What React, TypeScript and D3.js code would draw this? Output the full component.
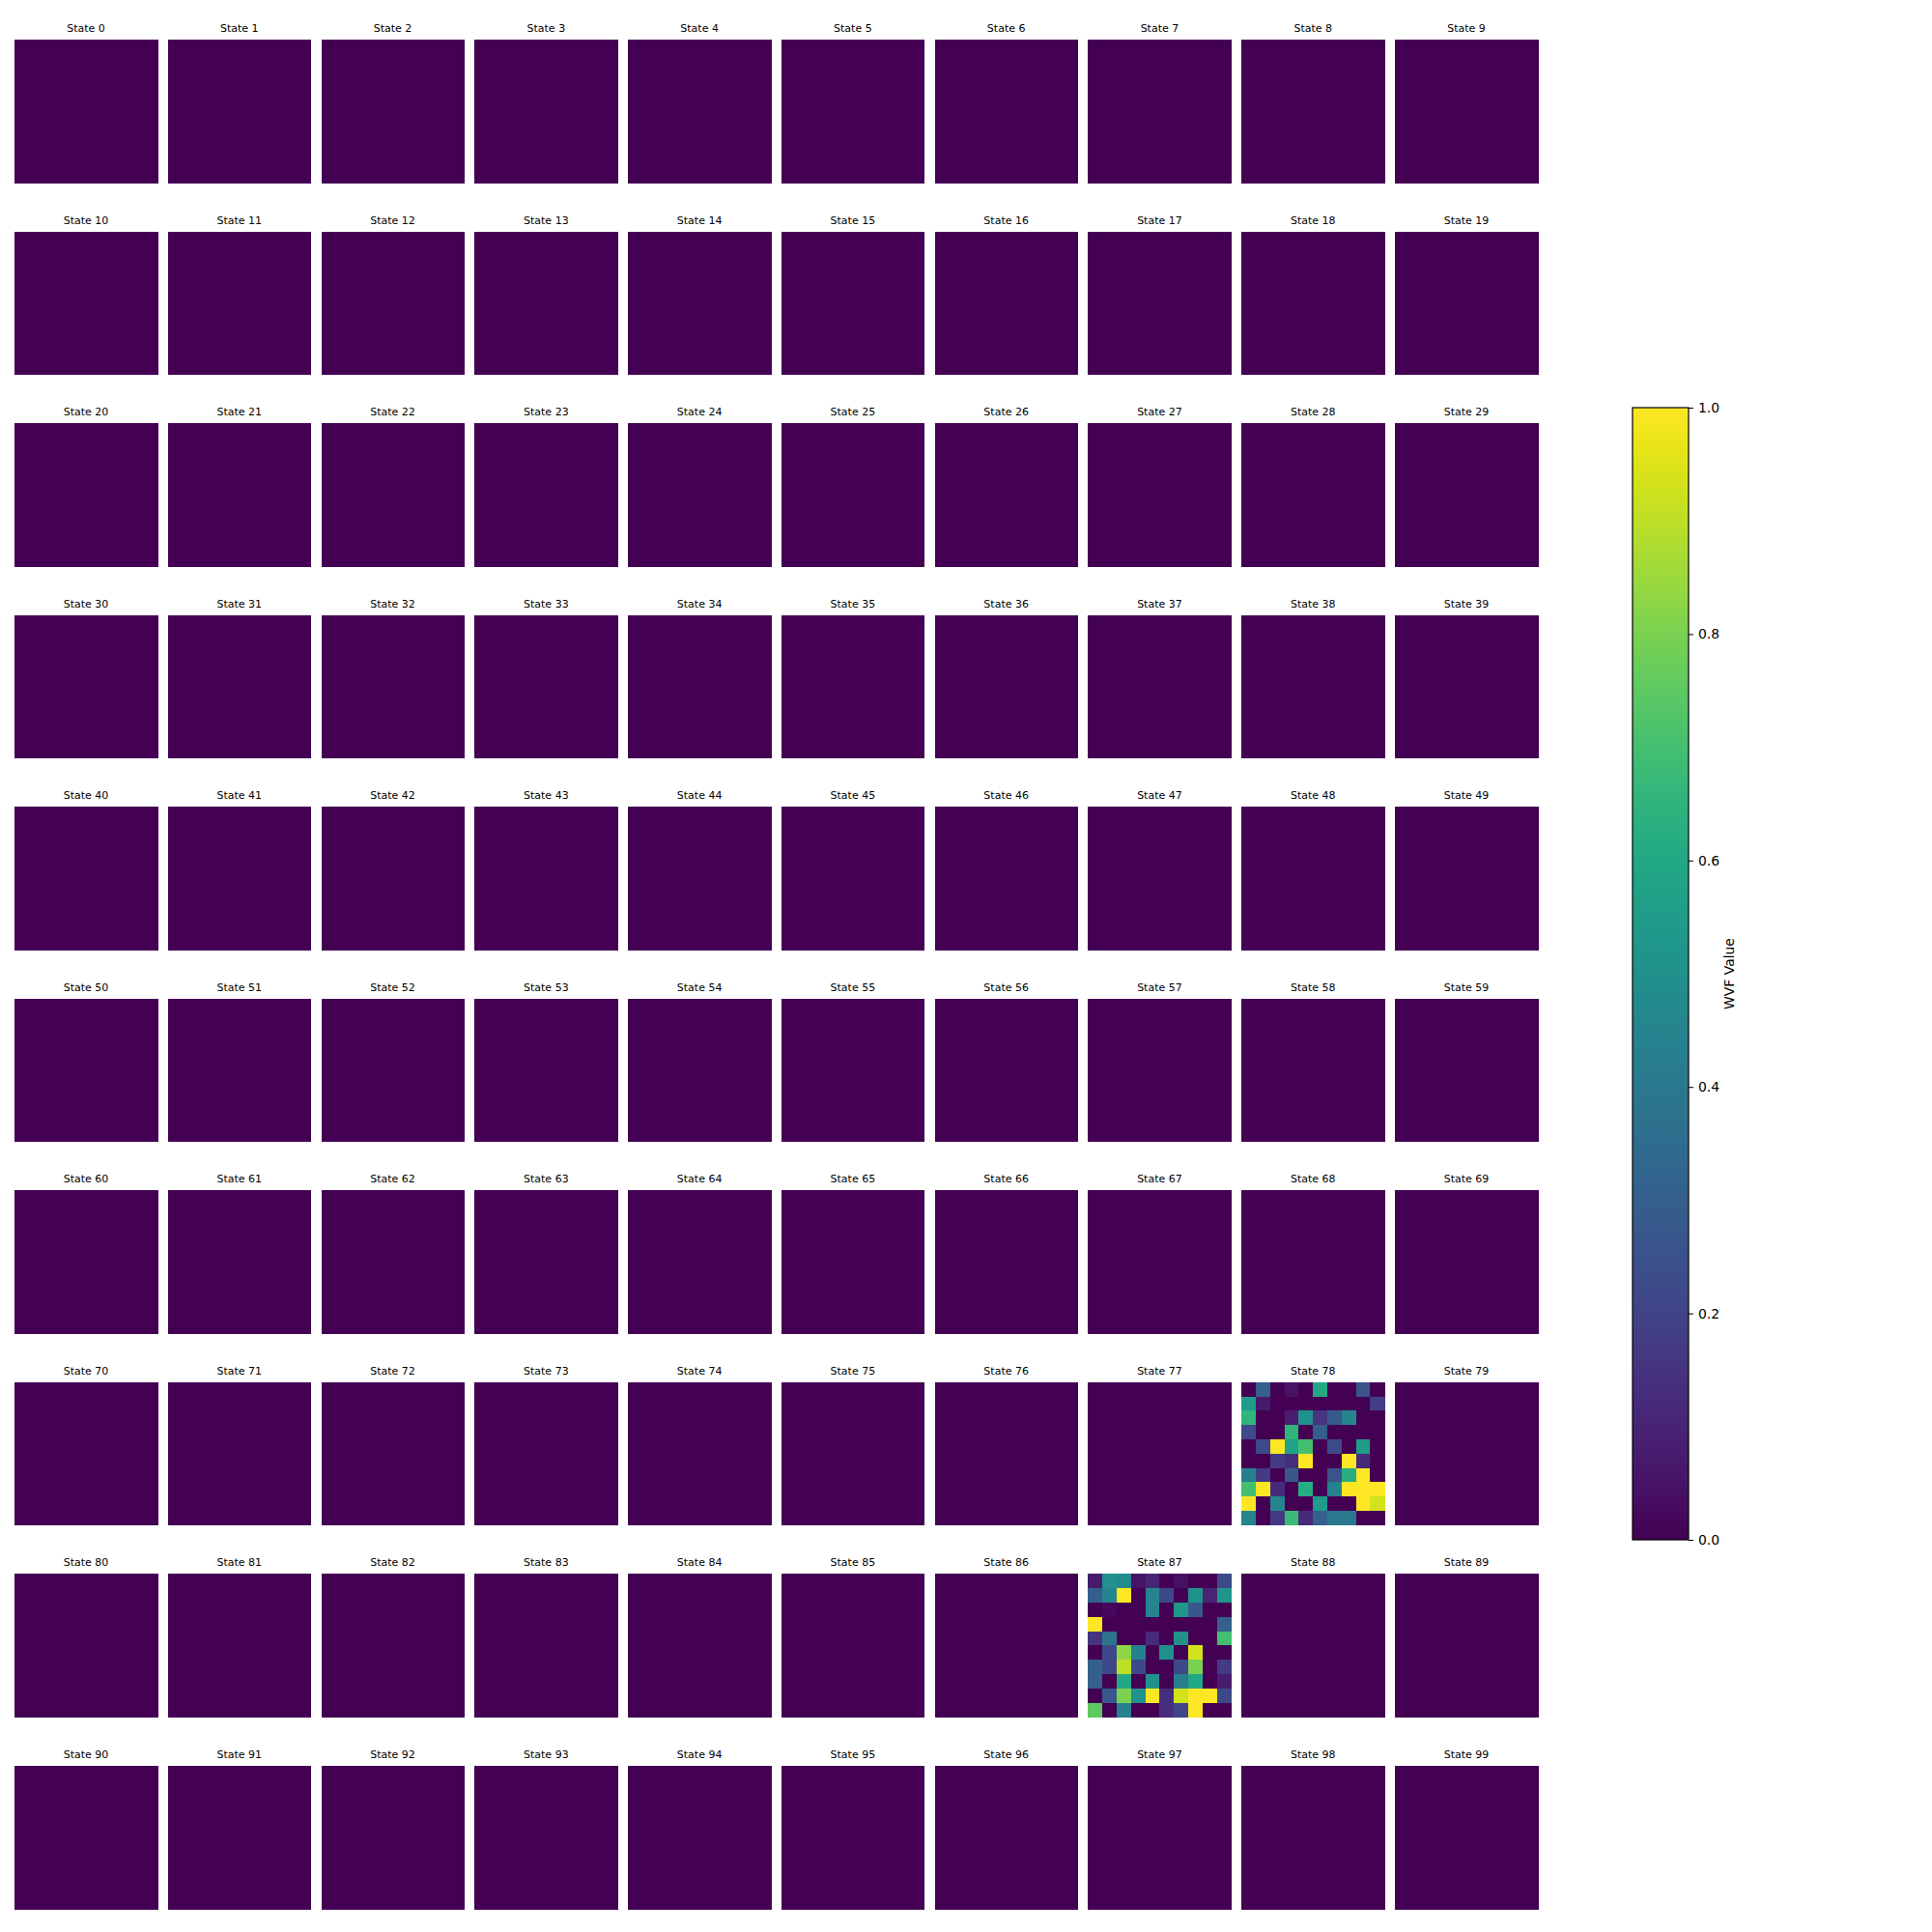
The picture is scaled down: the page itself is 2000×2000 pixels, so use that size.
import React, { useEffect, useRef } from 'react';
import * as d3 from 'd3';

// 100 states, each a 10x10 wavefunction grid; only 78 and 87 are non-zero
const stateIds = d3.range(100);
const ZERO_GRID: number[][] = [
  [0, 0, 0, 0, 0, 0, 0, 0, 0, 0],
  [0, 0, 0, 0, 0, 0, 0, 0, 0, 0],
  [0, 0, 0, 0, 0, 0, 0, 0, 0, 0],
  [0, 0, 0, 0, 0, 0, 0, 0, 0, 0],
  [0, 0, 0, 0, 0, 0, 0, 0, 0, 0],
  [0, 0, 0, 0, 0, 0, 0, 0, 0, 0],
  [0, 0, 0, 0, 0, 0, 0, 0, 0, 0],
  [0, 0, 0, 0, 0, 0, 0, 0, 0, 0],
  [0, 0, 0, 0, 0, 0, 0, 0, 0, 0],
  [0, 0, 0, 0, 0, 0, 0, 0, 0, 0],
];

const state78: number[][] = [
  [0, 0.3, 0, 0.05, 0, 0.6, 0, 0, 0.25, 0],
  [0.55, 0.07, 0, 0, 0, 0, 0, 0, 0, 0.18],
  [0.65, 0, 0, 0.08, 0.5, 0.15, 0.28, 0.45, 0, 0],
  [0.22, 0, 0, 0.65, 0, 0.3, 0, 0, 0, 0],
  [0, 0.22, 1.0, 0.58, 0.7, 0, 0.22, 0, 0.55, 0],
  [0, 0, 0.17, 0.13, 1.0, 0, 0, 1.0, 0.12, 0],
  [0.43, 0.17, 0, 0.27, 0, 0, 0.25, 0.63, 1.0, 0],
  [0.7, 1.0, 0.12, 0, 0.62, 0, 0.43, 1.0, 1.0, 1.0],
  [1.0, 0, 0.45, 0, 0, 0.55, 0, 0, 1.0, 0.93],
  [0.45, 0, 0.17, 0.68, 0.12, 0.3, 0.4, 0.4, 0, 0],
];

const state87: number[][] = [
  [0.07, 0.5, 0.48, 0.05, 0.1, 0, 0.04, 0, 0, 0.22],
  [0.3, 0.45, 1.0, 0, 0.45, 0.22, 0, 0.5, 0.1, 0.52],
  [0, 0.02, 0, 0, 0.45, 0, 0.53, 0.27, 0, 0],
  [1.0, 0, 0, 0, 0, 0, 0, 0, 0, 0.3],
  [0.15, 0.38, 0, 0, 0.12, 0, 0.5, 0, 0, 0.7],
  [0, 0.22, 0.83, 0.43, 0, 0.5, 0, 0.93, 0, 0],
  [0.3, 0.22, 0.9, 0.22, 0, 0, 0.22, 0.8, 0, 0.17],
  [0.3, 0, 0.6, 0, 0.5, 0, 0.42, 0.6, 0, 0.08],
  [0, 0.27, 0.8, 0.5, 1.0, 0.13, 0.93, 1.0, 1.0, 0.22],
  [0.75, 0, 0.43, 0, 0, 0.13, 0.2, 1.0, 0, 0],
];

const colorbarTicks = [0, 0.2, 0.4, 0.6, 0.8, 1.0];

function gridFor(id: number) {
  if (id === 78) return state78;
  if (id === 87) return state87;
  return ZERO_GRID;
}

function App() {
  const ref = useRef<SVGSVGElement>(null);

  useEffect(() => {
    const svg = d3.select(ref.current);
    svg.selectAll('*').remove();

    const color = d3.scaleSequential(d3.interpolateViridis).domain([0, 1]);

    const panelSize = 148;
    const colX = d3.scaleLinear().domain([0, 9]).range([15, 1444]);
    const rowY = d3.scaleLinear().domain([0, 9]).range([41, 1828]);
    const cell = d3.scaleBand<number>().domain(d3.range(10)).range([0, panelSize]);

    const panels = svg
      .selectAll('g.panel')
      .data(stateIds)
      .enter()
      .append('g')
      .attr('class', 'panel')
      .attr('transform', (d) => `translate(${colX(d % 10)}, ${rowY(Math.floor(d / 10))})`);

    panels
      .append('text')
      .attr('x', panelSize / 2)
      .attr('y', -8)
      .attr('text-anchor', 'middle')
      .style('font-family', 'DejaVu Sans')
      .style('font-size', '11px')
      .style('fill', '#000')
      .text((d) => 'State ' + d);

    panels.each(function (d) {
      const grid = gridFor(d);
      const cells = grid.flatMap((row, r) => row.map((v, c) => ({ r, c, v })));
      d3.select(this)
        .selectAll('rect')
        .data(cells)
        .enter()
        .append('rect')
        .attr('x', (e) => cell(e.c)!)
        .attr('y', (e) => cell(e.r)!)
        .attr('width', cell.bandwidth() + 0.5)
        .attr('height', cell.bandwidth() + 0.5)
        .attr('shape-rendering', 'crispEdges')
        .style('fill', (e) => color(e.v));
    });

    // Colorbar
    const cbX = 1690;
    const cbW = 58;
    const cbScale = d3.scaleLinear().domain([0, 1]).range([1594, 422]);

    const defs = svg.append('defs');
    const grad = defs
      .append('linearGradient')
      .attr('id', 'viridis-grad')
      .attr('x1', 0).attr('y1', 1).attr('x2', 0).attr('y2', 0);
    grad
      .selectAll('stop')
      .data(d3.range(0, 1.0001, 0.02))
      .enter()
      .append('stop')
      .attr('offset', (d) => d)
      .attr('stop-color', (d) => color(d));

    svg
      .append('rect')
      .attr('x', cbX)
      .attr('y', cbScale(1))
      .attr('width', cbW)
      .attr('height', cbScale(0) - cbScale(1))
      .style('fill', 'url(#viridis-grad)')
      .style('stroke', '#000')
      .style('stroke-width', 1.2);

    const axis = d3
      .axisRight(cbScale)
      .tickValues(colorbarTicks)
      .tickFormat(d3.format('.1f'))
      .tickSize(5)
      .tickPadding(5);

    const ag = svg.append('g').attr('transform', `translate(${cbX + cbW}, 0)`).call(axis);
    ag.select('.domain').remove();
    ag.selectAll('line').style('stroke', '#000').style('stroke-width', 1);
    ag.selectAll('text')
      .style('font-family', 'DejaVu Sans')
      .style('font-size', '13.9px')
      .style('fill', '#000');

    svg
      .append('text')
      .attr('transform', `translate(1795, ${cbScale(0.5)}) rotate(-90)`)
      .attr('text-anchor', 'middle')
      .style('font-family', 'DejaVu Sans')
      .style('font-size', '13.9px')
      .style('fill', '#000')
      .text('WVF Value');
  }, []);

  return (
    <svg
      ref={ref}
      width={2000}
      height={2000}
      style={{ position: 'absolute', left: 0, top: 0, background: '#fff' }}
    />
  );
}

export default App;
